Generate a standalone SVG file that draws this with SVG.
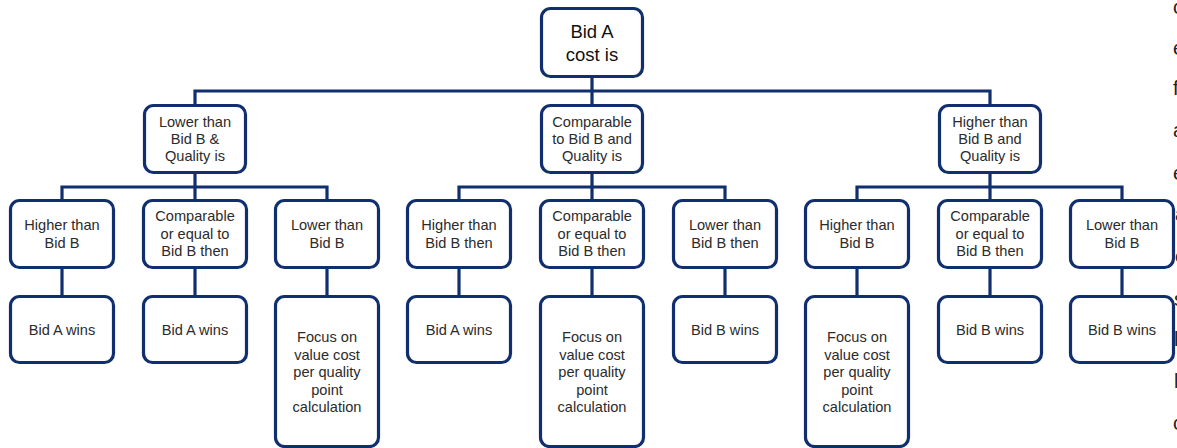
<svg xmlns="http://www.w3.org/2000/svg" width="1177" height="448" viewBox="0 0 1177 448">
<style>
.box{fill:#fff;stroke:#112f6e;stroke-width:3.2}
.t{font-family:"Liberation Sans",Arial,sans-serif;font-size:14.6px;fill:#2b2b2b;text-anchor:middle}
.big{font-size:18.5px;fill:#111}
.c{fill:none;stroke:#112f6e;stroke-width:3.2}
.frag{font-family:"Liberation Sans",Arial,sans-serif;font-size:20px;fill:#222}
</style>
<rect width="1177" height="448" fill="#fff"/>
<g id="connectors" class="c">
<path d="M592 77V104M195 104V91H990V104"/>
<path d="M195 174V199M62 199V187H327V199"/>
<path d="M592 174V199M459 199V187H725V199"/>
<path d="M990 174V199M857 199V187H1122V199"/>
<path d="M62 269V295M195 269V295M327 269V295M459 269V295M592 269V295M725 269V295M857 269V295M990 269V295M1122 269V295"/>
</g>
<g id="root"><rect class="box" x="541.5" y="8.5" width="101" height="68" rx="9"/><text class="t big" x="592" y="37.5">Bid A</text><text class="t big" x="592" y="60.5">cost is</text></g>
<g id="lower"><rect class="box" x="144.5" y="105.5" width="101" height="67" rx="9"/><text class="t" x="195" y="126.5">Lower than</text><text class="t" x="195" y="144">Bid B &amp;</text><text class="t" x="195" y="161">Quality is</text></g>
<g id="comparable"><rect class="box" x="541.5" y="105.5" width="101" height="67" rx="9"/><text class="t" x="592" y="126.5">Comparable</text><text class="t" x="592" y="144">to Bid B and</text><text class="t" x="592" y="161">Quality is</text></g>
<g id="higher"><rect class="box" x="939.5" y="105.5" width="101" height="67" rx="9"/><text class="t" x="990" y="126.5">Higher than</text><text class="t" x="990" y="144">Bid B and</text><text class="t" x="990" y="161">Quality is</text></g>
<g id="l-higher"><rect class="box" x="10.5" y="200.5" width="103" height="67" rx="9"/><text class="t" x="62" y="230">Higher than</text><text class="t" x="62" y="247.5">Bid B</text></g>
<g id="l-comp"><rect class="box" x="143.5" y="200.5" width="103" height="67" rx="9"/><text class="t" x="195" y="221">Comparable</text><text class="t" x="195" y="238.5">or equal to</text><text class="t" x="195" y="256">Bid B then</text></g>
<g id="l-lower"><rect class="box" x="275.5" y="200.5" width="103" height="67" rx="9"/><text class="t" x="327" y="230">Lower than</text><text class="t" x="327" y="247.5">Bid B</text></g>
<g id="m-higher"><rect class="box" x="407.5" y="200.5" width="103" height="67" rx="9"/><text class="t" x="459" y="230">Higher than</text><text class="t" x="459" y="247.5">Bid B then</text></g>
<g id="m-comp"><rect class="box" x="540.5" y="200.5" width="103" height="67" rx="9"/><text class="t" x="592" y="221">Comparable</text><text class="t" x="592" y="238.5">or equal to</text><text class="t" x="592" y="256">Bid B then</text></g>
<g id="m-lower"><rect class="box" x="673.5" y="200.5" width="103" height="67" rx="9"/><text class="t" x="725" y="230">Lower than</text><text class="t" x="725" y="247.5">Bid B then</text></g>
<g id="h-higher"><rect class="box" x="805.5" y="200.5" width="103" height="67" rx="9"/><text class="t" x="857" y="230">Higher than</text><text class="t" x="857" y="247.5">Bid B</text></g>
<g id="h-comp"><rect class="box" x="938.5" y="200.5" width="103" height="67" rx="9"/><text class="t" x="990" y="221">Comparable</text><text class="t" x="990" y="238.5">or equal to</text><text class="t" x="990" y="256">Bid B then</text></g>
<g id="h-lower"><rect class="box" x="1070.5" y="200.5" width="103" height="67" rx="9"/><text class="t" x="1122" y="230">Lower than</text><text class="t" x="1122" y="247.5">Bid B</text></g>
<g id="r1"><rect class="box" x="10.5" y="296.5" width="103" height="66" rx="9"/><text class="t" x="62" y="335">Bid A wins</text></g>
<g id="r2"><rect class="box" x="143.5" y="296.5" width="103" height="66" rx="9"/><text class="t" x="195" y="335">Bid A wins</text></g>
<g id="r3"><rect class="box" x="275.5" y="296.5" width="103" height="150" rx="9"/><text class="t" x="327" y="342">Focus on</text><text class="t" x="327" y="359.5">value cost</text><text class="t" x="327" y="377">per quality</text><text class="t" x="327" y="394.5">point</text><text class="t" x="327" y="412">calculation</text></g>
<g id="r4"><rect class="box" x="407.5" y="296.5" width="103" height="66" rx="9"/><text class="t" x="459" y="335">Bid A wins</text></g>
<g id="r5"><rect class="box" x="540.5" y="296.5" width="103" height="150" rx="9"/><text class="t" x="592" y="342">Focus on</text><text class="t" x="592" y="359.5">value cost</text><text class="t" x="592" y="377">per quality</text><text class="t" x="592" y="394.5">point</text><text class="t" x="592" y="412">calculation</text></g>
<g id="r6"><rect class="box" x="673.5" y="296.5" width="103" height="66" rx="9"/><text class="t" x="725" y="335">Bid B wins</text></g>
<g id="r7"><rect class="box" x="805.5" y="296.5" width="103" height="150" rx="9"/><text class="t" x="857" y="342">Focus on</text><text class="t" x="857" y="359.5">value cost</text><text class="t" x="857" y="377">per quality</text><text class="t" x="857" y="394.5">point</text><text class="t" x="857" y="412">calculation</text></g>
<g id="r8"><rect class="box" x="938.5" y="296.5" width="103" height="66" rx="9"/><text class="t" x="990" y="335">Bid B wins</text></g>
<g id="r9"><rect class="box" x="1070.5" y="296.5" width="103" height="66" rx="9"/><text class="t" x="1122" y="335">Bid B wins</text></g>
<g id="edge-text" class="frag">
<text x="1173" y="14">c</text><text x="1173" y="55">e</text><text x="1173" y="95">f</text><text x="1173" y="137">a</text><text x="1173" y="180">e</text><text x="1175" y="221">a</text><text x="1175" y="263">e</text><text x="1174" y="306">s</text><text x="1174" y="346">l</text><text x="1174" y="388">l</text><text x="1173" y="430">c</text>
</g>
</svg>
